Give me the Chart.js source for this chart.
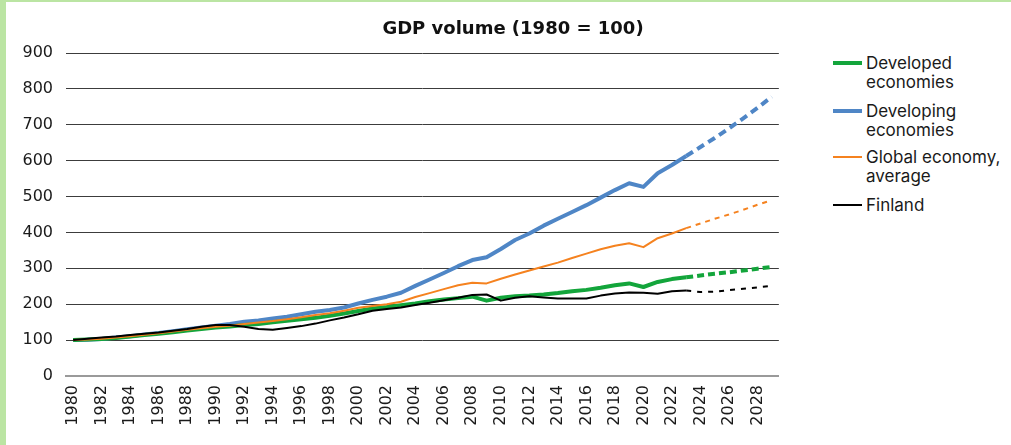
<!DOCTYPE html>
<html>
<head>
<meta charset="utf-8">
<script src="https://cdn.jsdelivr.net/npm/chart.js@4.4.1/dist/chart.umd.min.js"></script>
<style>
  html, body { margin: 0; padding: 0; background: #fff; }
  #wrap { position: relative; width: 1011px; height: 445px; overflow: hidden; background: #fff; }
  .strip { position: absolute; background: #bbe5a3; }
  #title { position: absolute; left: 15px; width: 996px; top: 17px; text-align: center;
           font: bold 18px/22px "DejaVu Sans", sans-serif; color: #111; }
  #chartbox { position: absolute; left: 0; top: 0; width: 800px; height: 445px; }
  .lg-sample { position: absolute; left: 833px; width: 29px; }
  .lg-text { position: absolute; left: 866px; font: 17px/19px Inter, "Noto Sans", sans-serif; color: #1a1a1a; white-space: nowrap; }
</style>
</head>
<body>
<div id="wrap">
  <div id="chartbox"><canvas id="c" width="800" height="445"></canvas></div>
  <div class="strip" style="left:0;top:0;width:6px;height:445px"></div>
  <div class="strip" style="left:0;top:0;width:1011px;height:2px"></div>
  <div id="title">GDP volume (1980 = 100)</div>
  <div id="legend"></div>
</div>
<script>
const years = ['1980','1981','1982','1983','1984','1985','1986','1987','1988','1989',
               '1990','1991','1992','1993','1994','1995','1996','1997','1998','1999',
               '2000','2001','2002','2003','2004','2005','2006','2007','2008','2009',
               '2010','2011','2012','2013','2014','2015','2016','2017','2018','2019',
               '2020','2021','2022','2023','2024','2025','2026','2027','2028','2029'];

const developed = [100,102,103,106,110,114,118,122,127,131,
                   135,138,142,145,150,154,158,162,168,174,
                   181,188,192,197,202,208,213,217,221,210,
                   218,222,224,227,231,236,240,246,253,258,
                   248,262,270,275,280,285,289,294,299,304];

const developing = [100,101,103,107,111,116,120,125,130,135,
                    140,145,151,155,160,165,172,179,184,191,
                    202,212,221,232,251,269,287,306,323,331,
                    354,379,397,419,438,457,476,497,518,537,
                    527,565,588,613,638,663,690,718,747,778];

const globalAvg = [100,102,104,107,111,115,119,124,129,133,
                   137,140,145,149,153,158,164,170,175,182,
                   190,195,200,207,220,231,242,253,260,258,
                   271,283,294,305,316,329,341,353,363,370,
                   359,384,397,412,425,438,450,463,477,490];

const finland = [100,104,107,110,114,118,121,126,131,137,
                 142,142,137,131,129,134,139,146,155,163,
                 172,182,187,191,198,204,211,218,226,227,
                 210,218,222,219,216,216,216,224,230,233,
                 232,229,236,238,234,235,239,243,247,251];

const yTicks = [0,100,200,300,400,500,600,700,800,900];
const forecastStartIndex = 43; // 2023 is last actual year

const seriesNames = [['Developed','economies'],['Developing','economies'],['Global economy,','average'],['Finland']];
const seriesColors = ['#13a53b', '#4f86c6', '#f5821f', '#000000'];
const seriesWidths = [4, 4, 2, 2];
const seriesDashes = [[7,4],[8,5],[5,5],[5,6]];
const seriesData = [developed, developing, globalAvg, finland];
const seriesOrder = [3, 4, 2, 1];

const datasets = seriesData.map((d, i) => ({
  label: seriesNames[i].join(' '),
  data: d,
  borderColor: seriesColors[i],
  backgroundColor: seriesColors[i],
  borderWidth: seriesWidths[i],
  pointRadius: 0,
  pointHoverRadius: 0,
  tension: 0,
  fill: false,
  order: seriesOrder[i],
  borderJoinStyle: 'round',
  segment: {
    borderDash: ctx => ctx.p0DataIndex >= forecastStartIndex ? seriesDashes[i] : undefined
  }
}));

const tickFont = { family: '"DejaVu Sans", sans-serif', size: 16 };

new Chart(document.getElementById('c'), {
  type: 'line',
  data: { labels: years, datasets },
  options: {
    responsive: false,
    animation: false,
    layout: { padding: { top: 53, right: 7, left: 0, bottom: 0 } },
    plugins: { legend: { display: false }, tooltip: { enabled: false }, title: { display: false } },
    scales: {
      x: {
        type: 'category',
        offset: true,
        grid: { display: false, drawTicks: false },
        border: { display: true, color: '#9a9a9a', width: 2 },
        ticks: {
          autoSkip: false,
          maxRotation: 90, minRotation: 90,
          padding: 9,
          color: '#1a1a1a',
          font: tickFont,
          callback: function(v, i) { const y = this.getLabelForValue(v); return (parseInt(y) % 2 === 0) ? y : ''; }
        },
        afterFit: s => { s.height = 69; }
      },
      y: {
        min: 0, max: 900,
        afterBuildTicks: s => { s.ticks = yTicks.map(v => ({ value: v })); },
        grid: {
          drawTicks: false,
          color: ctx => ctx.tick && ctx.tick.value === 0 ? '#9a9a9a' : '#3c3c3c',
          lineWidth: ctx => ctx.tick && ctx.tick.value === 0 ? 2 : 1
        },
        border: { display: false },
        ticks: { padding: 13, color: '#1a1a1a', font: tickFont },
        afterFit: s => { s.width = 66; }
      }
    }
  }
});

// HTML legend
const legend = document.getElementById('legend');
const tops = [54, 102, 148, 196];
seriesNames.forEach((name, i) => {
  const s = document.createElement('div');
  s.className = 'lg-sample';
  s.style.background = seriesColors[i];
  s.style.height = seriesWidths[i] + 'px';
  s.style.top = (tops[i] + 9 - seriesWidths[i] / 2) + 'px';
  legend.appendChild(s);
  const t = document.createElement('div');
  t.className = 'lg-text';
  t.style.top = tops[i] + 'px';
  t.innerHTML = name.join('<br>');
  legend.appendChild(t);
});
</script>
</body>
</html>
